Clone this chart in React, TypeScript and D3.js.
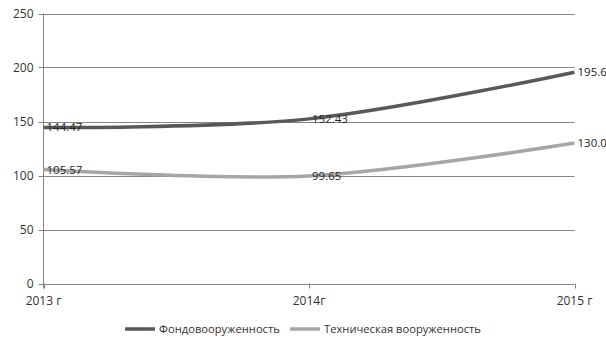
import React from "react";
import * as d3 from "d3";

const categories = ["2013 г", "2014г", "2015 г"];
const seriesNames = ["Фондовооруженность", "Техническая вооруженность"];
const fondo = [144.47, 152.43, 195.64];
const tech = [105.57, 99.65, 130.04];
const yTicks = [0, 50, 100, 150, 200, 250];
const colors = ["#595959", "#a6a6a6"];

const W = 606;
const H = 341;
const margin = { left: 43.5, right: 31.5, top: 13.5, bottom: 57.5 };

export default function App() {
  const x = d3
    .scalePoint<string>()
    .domain(categories)
    .range([margin.left, W - margin.right]);
  const y = d3
    .scaleLinear()
    .domain([0, 250])
    .range([H - margin.bottom, margin.top]);
  const line = d3
    .line<number>()
    .x((_, i) => x(categories[i]) as number)
    .y((d) => y(d))
    .curve(d3.curveCardinal.tension(0));
  const series = [fondo, tech];
  const font = "'Open Sans', 'DejaVu Sans', sans-serif";
  return (
    <svg
      width={W}
      height={H}
      style={{ position: "absolute", left: 0, top: 0, background: "#fff" }}
      fontFamily={font}
    >
      {yTicks.map((t) => (
        <g key={t}>
          {t > 0 && (
            <line
              x1={margin.left}
              x2={W - margin.right}
              y1={Math.round(y(t)) + 0.5}
              y2={Math.round(y(t)) + 0.5}
              stroke="#868686"
              strokeWidth={1}
            />
          )}
          <line
            x1={margin.left - 5}
            x2={margin.left}
            y1={Math.round(y(t)) + 0.5}
            y2={Math.round(y(t)) + 0.5}
            stroke="#868686"
          />
          <text
            x={margin.left - 10}
            y={y(t)}
            dy="0.35em"
            textAnchor="end"
            fontSize={12}
            fill="#333"
          >
            {t}
          </text>
        </g>
      ))}
      <line
        x1={margin.left}
        x2={margin.left}
        y1={margin.top}
        y2={y(0) + 5}
        stroke="#868686"
      />
      <line
        x1={margin.left}
        x2={W - margin.right}
        y1={Math.round(y(0)) + 0.5}
        y2={Math.round(y(0)) + 0.5}
        stroke="#868686"
      />
      {categories.map((c) => (
        <g key={c}>
          <line
            x1={Math.round(x(c) as number) + 0.5}
            x2={Math.round(x(c) as number) + 0.5}
            y1={y(0)}
            y2={y(0) + 5}
            stroke="#868686"
          />
          <text
            x={x(c) as number}
            y={y(0) + 21}
            textAnchor="middle"
            fontSize={12}
            fill="#333"
          >
            {c}
          </text>
        </g>
      ))}
      {series.map((s, si) => (
        <path
          key={si}
          d={line(s) || ""}
          fill="none"
          stroke={colors[si]}
          strokeWidth={3.5}
        />
      ))}
      {series.map((s, si) =>
        s.map((v, i) => (
          <text
            key={si + "-" + i}
            x={(x(categories[i]) as number) + 3}
            y={y(v)}
            dy="0.35em"
            fontSize={11.5}
            fill="#262626"
          >
            {v.toFixed(2)}
          </text>
        ))
      )}
      {seriesNames.map((n, i) => {
        const sx = i === 0 ? 125 : 290;
        return (
          <g key={n}>
            <line
              x1={sx}
              x2={sx + 30}
              y1={329}
              y2={329}
              stroke={colors[i]}
              strokeWidth={3.5}
            />
            <text x={sx + 34} y={329} dy="0.35em" fontSize={11.2} fill="#333">
              {n}
            </text>
          </g>
        );
      })}
    </svg>
  );
}
